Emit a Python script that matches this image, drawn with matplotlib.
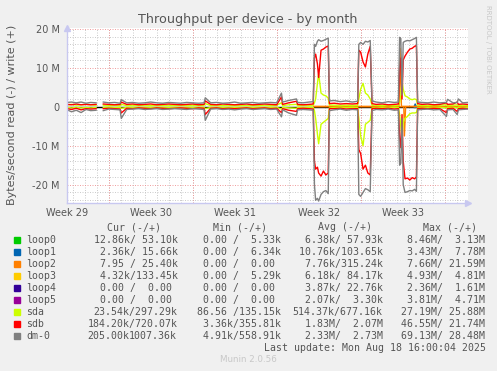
import matplotlib
matplotlib.use('Agg')
import matplotlib.pyplot as plt
from matplotlib.patches import Rectangle

W, H = 497, 371

# sample times, in days from the left edge of the graph
days = [0.05, 0.4, 0.8, 1.2, 1.6, 2.0, 2.45, 2.75,
        3.05, 3.5, 4.0, 4.45, 4.55, 5.0, 5.5, 6.0, 6.5, 7.0, 7.5, 8.0, 8.5, 9.0, 9.5, 10.0, 10.5, 11.0, 11.45, 11.55,
        12.0, 12.5, 13.0, 13.5, 14.0, 14.5, 15.0, 15.5, 16.0, 16.5, 17.0, 17.5, 17.9, 18.0, 18.5, 19.15, 19.25, 19.7, 20.2, 20.55,
        20.65, 20.75, 20.9, 21.0, 21.2, 21.4, 21.6, 21.8, 21.9,
        22.3, 22.8, 23.3, 23.8, 24.25,
        24.35, 24.5, 24.7, 24.9, 25.1, 25.3, 25.45,
        25.8, 26.3, 26.8, 27.3, 27.65,
        27.75, 27.85, 27.95, 28.05, 28.2, 28.4, 28.6, 28.8, 29.0, 29.15, 29.25,
        29.6, 30.1, 30.6, 31.1, 31.65, 31.75, 32.2, 32.55, 32.65, 33.0, 33.4]

nan = float('nan')

# bytes/second in M, write (+) and read (shown as -)
dm0_write = [1.1, 1.2, 1.0, 1.2, 0.9, 1.1, 1.0, nan,
             1.2, 1.0, 1.1, 0.9, 1.8, 1.0, 1.1, 0.9, 1.0, 1.2, 1.0, 0.9, 1.1, 1.0, 0.9, 1.1, 1.0, 0.9, 1.0, 2.3,
             1.0, 1.1, 0.9, 1.0, 1.2, 0.9, 1.0, 1.1, 0.9, 1.0, 1.1, 1.0, 3.5, 1.2, 1.6, 2.0, 1.1, 1.0, 1.2, 1.3,
             16.0, 15.5, 16.8, 17.2, 16.8, 17.0, 17.3, 17.6, 1.5,
             1.6, 1.3, 1.5, 1.2, 1.4,
             16.0, 16.5, 16.0, 16.8, 16.6, 17.0, 1.5,
             1.2, 1.0, 1.3, 1.1, 1.2,
             17.8, 17.5, 3.0, 16.5, 16.8, 17.0, 16.9, 17.2, 17.5, 17.8, 1.2,
             1.1, 1.0, 1.2, 1.0, 1.1, 1.9, 1.0, 1.1, 2.0, 1.0, 1.1]
dm0_read = [0.8, 1.3, 0.9, 1.5, 0.7, 1.0, 0.9, nan,
            1.0, 0.6, 0.7, 0.8, 3.0, 0.7, 0.6, 0.5, 0.7, 0.6, 0.5, 0.7, 0.6, 0.5, 0.6, 0.7, 0.5, 0.6, 0.7, 3.5,
            0.6, 0.5, 0.7, 0.6, 0.8, 0.6, 0.5, 0.7, 0.6, 0.5, 0.7, 0.6, 2.6, 0.8, 1.6, 2.2, 0.8, 0.7, 0.8, 0.9,
            20.0, 24.0, 23.5, 24.2, 22.5, 21.8, 21.5, 22.3, 1.0,
            0.8, 0.6, 0.9, 0.7, 0.8,
            22.5, 23.0, 22.0, 21.0, 21.3, 21.8, 1.0,
            0.7, 0.8, 0.6, 0.9, 0.8,
            15.0, 14.5, 3.0, 20.0, 22.0, 21.8, 21.5, 21.6, 21.2, 21.7, 0.8,
            0.7, 0.6, 0.8, 0.7, 2.5, 0.8, 0.7, 2.0, 0.8, 0.7, 0.6]
sdb_write = [0.6, 0.5, 0.7, 0.5, 0.6, 0.5, 0.6, nan,
             0.7, 0.6, 0.5, 0.6, 1.2, 0.6, 0.7, 0.5, 0.6, 0.7, 0.5, 0.6, 0.7, 0.6, 0.5, 0.6, 0.7, 0.5, 0.6, 1.5,
             0.6, 0.5, 0.7, 0.6, 0.5, 0.6, 0.7, 0.5, 0.6, 0.7, 0.6, 0.5, 2.5, 0.6, 1.0, 1.4, 0.6, 0.5, 0.6, 0.7,
             12.5, 13.5, 11.0, 7.5, 14.5, 14.8, 15.3, 15.6, 0.8,
             0.9, 0.7, 0.8, 0.7, 0.8,
             14.5, 14.0, 11.5, 10.2, 13.5, 15.5, 0.8,
             0.6, 0.7, 0.5, 0.6, 0.7,
             10.0, 12.5, 2.0, 12.0, 13.0, 14.0, 14.8, 15.0, 15.5, 15.7, 0.8,
             0.6, 0.7, 0.5, 0.6, 1.0, 0.6, 0.7, 1.2, 0.6, 0.7, 0.6]
sdb_read = [0.5, 0.7, 0.4, 0.8, 0.5, 0.6, 0.5, nan,
            0.5, 0.4, 0.5, 0.6, 1.6, 0.4, 0.5, 0.3, 0.4, 0.5, 0.3, 0.4, 0.5, 0.4, 0.3, 0.4, 0.5, 0.3, 0.4, 2.0,
            0.4, 0.3, 0.5, 0.4, 0.5, 0.4, 0.3, 0.5, 0.4, 0.3, 0.5, 0.4, 1.5, 0.5, 0.9, 1.2, 0.5, 0.4, 0.5, 0.6,
            14.0, 16.0, 15.5, 17.0, 17.8, 16.5, 17.5, 17.0, 0.5,
            0.5, 0.4, 0.6, 0.5, 0.5,
            11.0, 12.0, 16.0, 15.0, 17.0, 17.5, 0.5,
            0.4, 0.5, 0.4, 0.6, 0.5,
            8.0, 10.5, 2.0, 14.0, 18.5, 18.3, 18.8, 18.2, 18.5, 18.0, 0.5,
            0.4, 0.5, 0.4, 0.5, 1.5, 0.5, 0.4, 1.2, 0.5, 0.4, 0.5]
sda_write = [0.5, 0.6, 0.4, 0.5, 0.6, 0.5, 0.4, nan,
             0.4, 0.3, 0.4, 0.3, 0.6, 0.3, 0.4, 0.3, 0.4, 0.3, 0.4, 0.3, 0.4, 0.3, 0.4, 0.3, 0.4, 0.3, 0.4, 0.8,
             0.3, 0.4, 0.3, 0.4, 0.3, 0.4, 0.3, 0.4, 0.3, 0.4, 0.3, 0.4, 1.0, 0.3, 0.5, 0.6, 0.3, 0.4, 0.3, 0.4,
             1.0, 2.0, 6.0, 8.5, 3.5, 3.0, 2.8, 2.2, 0.4,
             0.4, 0.3, 0.4, 0.3, 0.4,
             2.0, 4.5, 6.0, 3.5, 3.0, 2.0, 0.4,
             0.4, 0.3, 0.4, 0.3, 0.4,
             1.0, 3.0, 6.5, 4.5, 2.8, 2.5, 2.0, 1.8, 2.0, 1.8, 0.4,
             0.3, 0.4, 0.3, 0.4, 0.5, 0.3, 0.4, 0.5, 0.3, 0.4, 0.3]
sda_read = [0.2, 0.3, 0.2, 0.3, 0.2, 0.3, 0.2, nan,
            0.2, 0.15, 0.2, 0.15, 0.4, 0.2, 0.15, 0.2, 0.15, 0.2, 0.15, 0.2, 0.15, 0.2, 0.15, 0.2, 0.15, 0.2, 0.15, 0.5,
            0.2, 0.15, 0.2, 0.15, 0.2, 0.15, 0.2, 0.15, 0.2, 0.15, 0.2, 0.15, 0.6, 0.2, 0.3, 0.4, 0.2, 0.15, 0.2, 0.15,
            1.0, 3.0, 7.0, 9.5, 4.5, 4.0, 3.5, 3.0, 0.3,
            0.2, 0.15, 0.2, 0.15, 0.2,
            3.0, 7.5, 10.0, 4.5, 4.0, 3.5, 0.3,
            0.2, 0.15, 0.2, 0.15, 0.2,
            2.0, 5.0, 8.0, 4.0, 3.0, 2.5, 1.8, 1.6, 1.6, 1.5, 0.3,
            0.2, 0.15, 0.2, 0.15, 0.3, 0.2, 0.15, 0.3, 0.2, 0.15, 0.2]

# loop devices are idle apart from a few blips
loop1_days = [28.95, 29.05, 29.15]
loop1_write = [0.0, 0.7, 0.0]
loop1_read = [0.0, 0.0, 0.0]
loop2_days = [20.6, 27.7, 27.8, 27.9, 28.1, 28.15, 28.25, 33.4]
loop2_write = [0.1, 0.1, 15.0, 0.1, 0.1, 0.1, 0.1, 0.1]
loop2_read = [0.0, 0.0, 0.0, 0.0, 0.0, 7.5, 0.0, 0.0]

devices = ['loop0', 'loop1', 'loop2', 'loop3', 'loop4', 'loop5', 'sda', 'sdb', 'dm-0']
colors = ['#00CC00', '#0066B3', '#FF8000', '#FFCC00', '#330099', '#990099', '#CCFF00', '#FF0000', '#808080']
cur = ['12.86k/ 53.10k', ' 2.36k/ 15.66k', '  7.95 / 25.40k', ' 4.32k/133.45k', '  0.00 /  0.00 ',
       '  0.00 /  0.00 ', '23.54k/297.29k', '184.20k/720.07k', '205.00k/1007.36k']
mins = ['  0.00 /  5.33k', '  0.00 /  6.34k', '  0.00 /  0.00 ', '  0.00 /  5.29k', '  0.00 /  0.00 ',
        '  0.00 /  0.00 ', ' 86.56 /135.15k', '  3.36k/355.81k', '  4.91k/558.91k']
avgs = ['  6.38k/ 57.93k', ' 10.76k/103.65k', '  7.76k/315.24k', '  6.18k/ 84.17k', '  3.87k/ 22.76k',
        '  2.07k/  3.30k', '514.37k/677.16k', '  1.83M/  2.07M', '  2.33M/  2.73M']
maxs = ['  8.46M/  3.13M', '  3.43M/  7.78M', '  7.66M/ 21.59M', '  4.93M/  4.81M', '  2.36M/  1.61M',
        '  3.81M/  4.71M', ' 27.19M/ 25.88M', ' 46.55M/ 21.74M', ' 69.13M/ 28.48M']

week_labels = ['Week 29', 'Week 30', 'Week 31', 'Week 32', 'Week 33']
y_ticks = [-20, -10, 0, 10, 20]
y_labels = ['-20 M', '-10 M', '0', '10 M', '20 M']

fig = plt.figure(figsize=(W / 100, H / 100), dpi=100, facecolor='#F0F0F0')
ax = fig.add_axes([66.7 / W, 1 - 203 / H, 401.3 / W, 175 / H])
ax.set_facecolor('white')
ax.set_xlim(0, 33.45)
ax.set_ylim(-24.7e6, 20.2e6)

# grid: a dotted line per day / 2M, red every week / 10M
minor_kw = dict(color='#C4C4C4', lw=0.6, ls=(0, (1.2, 1.8)), zorder=0)
major_kw = dict(color='#EE9090', lw=0.6, ls=(0, (1.2, 1.8)), zorder=0)
for d in range(34):
    ax.axvline(d + 0.55, **minor_kw)
for k in range(5):
    ax.axvline(3.55 + 7 * k, **major_kw)
for v in range(-24, 21, 2):
    if v % 10 == 0:
        ax.axhline(v * 1e6, **(major_kw if v else minor_kw))
    else:
        ax.axhline(v * 1e6, **minor_kw)
ax.axhline(0, color='black', lw=1.0, zorder=1)

# series, read mirrored below the zero line
def draw(t, w, r, c):
    ax.plot(t, [v * 1e6 for v in w], color=c, lw=1.0, zorder=2)
    ax.plot(t, [-v * 1e6 for v in r], color=c, lw=1.0, zorder=2)

draw(loop1_days, loop1_write, loop1_read, colors[1])
draw(loop2_days, loop2_write, loop2_read, colors[2])
draw(days, sda_write, sda_read, colors[6])
draw(days, sdb_write, sdb_read, colors[7])
draw(days, dm0_write, dm0_read, colors[8])

for s in ['top', 'right']:
    ax.spines[s].set_visible(False)
for s in ['left', 'bottom']:
    ax.spines[s].set_color('#C8C8F0')
    ax.spines[s].set_linewidth(1.0)
ax.plot([0], [1.0], marker='^', ms=4, color='#C8C8F0', transform=ax.transAxes, clip_on=False)
ax.plot([1.0], [0], marker='>', ms=4, color='#C8C8F0', transform=ax.transAxes, clip_on=False)

ax.set_xticks([0.05 + 7 * k for k in range(5)], week_labels)
ax.set_yticks([v * 1e6 for v in y_ticks], y_labels)
ax.tick_params(length=0, labelsize=7, colors='#555555', pad=5)
ax.tick_params(axis='x', pad=3.5)

fig.text(248 / W, 1 - 19 / H, 'Throughput per device - by month', ha='center', va='center',
         fontsize=9.2, color='#555555')
fig.text(12 / W, 1 - 115 / H, 'Bytes/second read (-) / write (+)', rotation=90, ha='center', va='center',
         fontsize=8, color='#555555')
fig.text(488 / W, 1 - 5 / H, 'RRDTOOL / TOBI OETIKER', rotation=270, ha='center', va='top',
         fontsize=5, color='#C8C8C8')

# legend table
mono = dict(family='DejaVu Sans Mono', fontsize=7.1, color='#555555', va='center')
cw = 5.92
for x0, head in [(107, 'Cur (-/+)'), (213, 'Min (-/+)'), (318, 'Avg (-/+)'), (423, 'Max (-/+)')]:
    fig.text(x0 / W, 1 - 227 / H, head, ha='left', **mono)
for i, dev in enumerate(devices):
    y = 239.7 + 12 * i
    fig.add_artist(Rectangle((14 / W, 1 - (y + 3) / H), 6 / W, 6 / H, color=colors[i],
                             transform=fig.transFigure))
    fig.text(26 / W, 1 - y / H, dev, ha='left', **mono)
    for right, col in [(176.5, cur), (279.5, mins), (381.5, avgs), (483.5, maxs)]:
        s = col[i]
        if len(s) > 15:
            # too long for the column: rrdtool lets the two halves overlap
            rd, wr = s.split('/')
            fig.text((right - 15 * cw) / W, 1 - y / H, rd, ha='left', **mono)
            fig.text((right - len(wr) * cw) / W, 1 - y / H, wr, ha='left', **mono)
        else:
            fig.text((right - len(s) * cw) / W, 1 - y / H, s, ha='left', **mono)
s = 'Last update: Mon Aug 18 16:00:04 2025'
fig.text((483.5 - len(s) * cw) / W, 1 - 347.7 / H, s, ha='left', **mono)
fig.text(248 / W, 1 - 359.7 / H, 'Munin 2.0.56', ha='center', va='center', fontsize=6.3, color='#C8C8C8')

fig.savefig('out.png', dpi=100, facecolor='#F0F0F0')
